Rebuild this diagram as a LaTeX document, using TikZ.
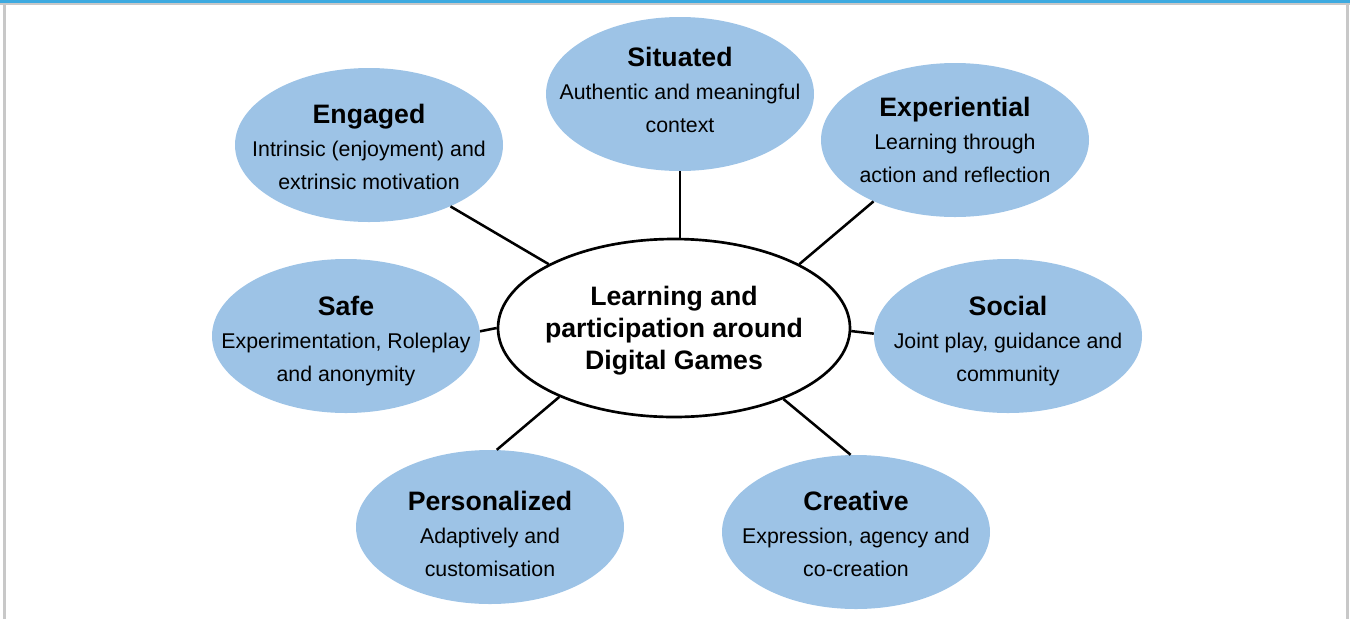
\documentclass[tikz,border=0pt]{standalone}
\usepackage{fontspec}
\setmainfont{Liberation Sans}
\usetikzlibrary{shapes.geometric}
\definecolor{bubble}{HTML}{9DC3E6}
\definecolor{topband}{HTML}{3DAAE0}
\definecolor{frame}{HTML}{C8C8C8}
\newcommand\bubbletitle[1]{{\fontsize{20}{24}\selectfont\bfseries #1}}
\tikzset{
  bub/.style={ellipse, fill=bubble, minimum width=201pt, minimum height=115.5pt, inner sep=0pt},
  hub/.style={ellipse, draw=black, line width=2pt, fill=white, minimum width=264pt, minimum height=133.5pt, inner sep=0pt},
  txt/.style={align=center, inner sep=0pt, font=\fontsize{16}{24.75}\selectfont},
  hubtxt/.style={align=center, inner sep=0pt, font=\fontsize{20}{24}\selectfont\bfseries},
  link/.style={draw=black, line width=1.9pt}
}
\begin{document}
\begin{tikzpicture}[x=0.75pt, y=-0.75pt]
\useasboundingbox (0,0) rectangle (1350,619);
% frame
\fill[frame] (0,0) rectangle (1350,4.5);
\fill[topband] (0,0) rectangle (1350,2.5);
\fill[frame] (3,2.5) rectangle (6,619);
\fill[frame] (1346,2.5) rectangle (1349,619);
% bubbles
\node[hub] (c) at (674,328) {};
\node[bub] (sit) at (680,94) {};
\node[bub] (eng) at (369,145) {};
\node[bub] (exp) at (955,140) {};
\node[bub] (safe) at (346,336) {};
\node[bub] (soc) at (1008,336) {};
\node[bub] (pers) at (490,527) {};
\node[bub] (cre) at (856,532) {};
% connectors
\draw[link] (sit.south) -- (sit.south |- c.north);
\draw[link] (eng.-37) -- (c.153);
\draw[link] (exp.217) -- (c.27.5);
\draw[link] (safe.2) -- (c.180);
\draw[link] (soc.179) -- (c.-1);
\draw[link] (pers.85.6) -- (c.211.6);
\draw[link] (cre.94.8) -- (c.-33.1);
% texts
\node[hubtxt] (ct) at (674,330.5) {Learning and\\participation around\\Digital Games};
\node[txt] (sitt) at (680,89.5) {\bubbletitle{Situated}\\Authentic and meaningful\\context};
\node[txt] (engt) at (369,146.5) {\bubbletitle{Engaged}\\Intrinsic (enjoyment) and\\extrinsic motivation};
\node[txt] (expt) at (955,139.5) {\bubbletitle{Experiential}\\Learning through\\action and reflection};
\node[txt] (safet) at (346,341) {\bubbletitle{Safe}\\Experimentation, Roleplay\\and anonymity};
\node[txt] (soct) at (1008,341) {\bubbletitle{Social}\\Joint play, guidance and\\community};
\node[txt] (perst) at (490,533.5) {\bubbletitle{Personalized}\\Adaptively and\\customisation};
\node[txt] (cret) at (856,533.5) {\bubbletitle{Creative}\\Expression, agency and\\co-creation};
\end{tikzpicture}
\end{document}
